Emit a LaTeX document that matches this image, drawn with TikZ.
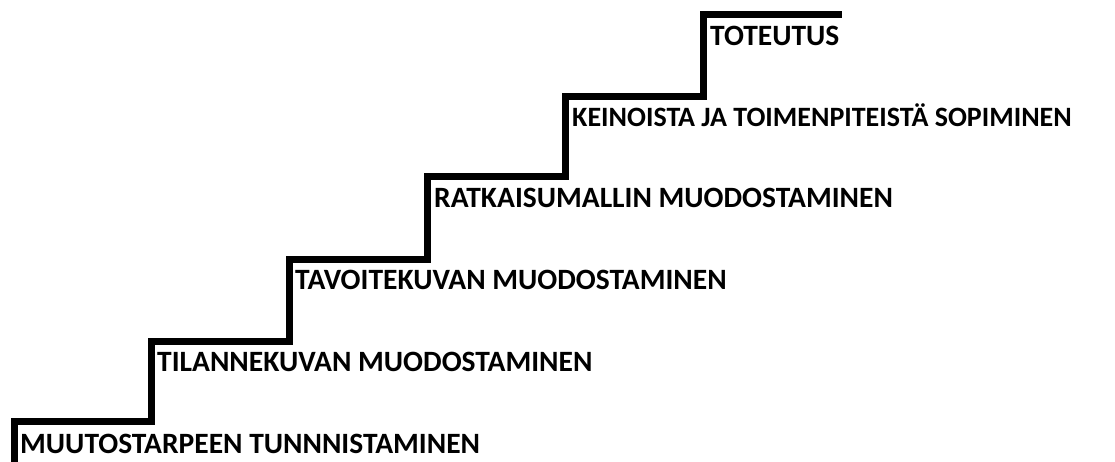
\documentclass[tikz,border=0pt]{standalone}
\usepackage{fontspec}
\setmainfont{Carlito}
\begin{document}
\begin{tikzpicture}[x=1pt,y=-1pt,
  stair/.style={line width=7pt, line join=miter, black},
  steplabel/.style={anchor=base west, inner sep=0pt, font=\bfseries\fontsize{29.5}{34}\selectfont, text=black}]
\useasboundingbox (0,0) rectangle (1115,462);
% staircase corners
\coordinate (s0) at (14,466);
\coordinate (s1) at (14,421);
\coordinate (s2) at (151,421);
\coordinate (s3) at (151,341);
\coordinate (s4) at (289,341);
\coordinate (s5) at (289,259);
\coordinate (s6) at (427,259);
\coordinate (s7) at (427,177);
\coordinate (s8) at (565,177);
\coordinate (s9) at (565,97);
\coordinate (s10) at (703,97);
\coordinate (s11) at (703,15);
\coordinate (s12) at (842,15);
\draw[stair] (s0) -- (s1) -- (s2) -- (s3) -- (s4) -- (s5) -- (s6) -- (s7) -- (s8) -- (s9) -- (s10) -- (s11) -- (s12);
% labels
\node[steplabel] (l1) at (20,453) {MUUTOSTARPEEN TUNNNISTAMINEN};
\node[steplabel] (l2) at (157,371) {TILANNEKUVAN MUODOSTAMINEN};
\node[steplabel] (l3) at (295,289) {TAVOITEKUVAN MUODOSTAMINEN};
\node[steplabel] (l4) at (434,208) {RATKAISUMALLIN MUODOSTAMINEN};
\node[steplabel, font=\bfseries\fontsize{28}{32}\selectfont] (l5) at (572,127) {KEINOISTA JA TOIMENPITEISTÄ SOPIMINEN};
\node[steplabel] (l6) at (710,46) {TOTEUTUS};
\end{tikzpicture}
\end{document}
